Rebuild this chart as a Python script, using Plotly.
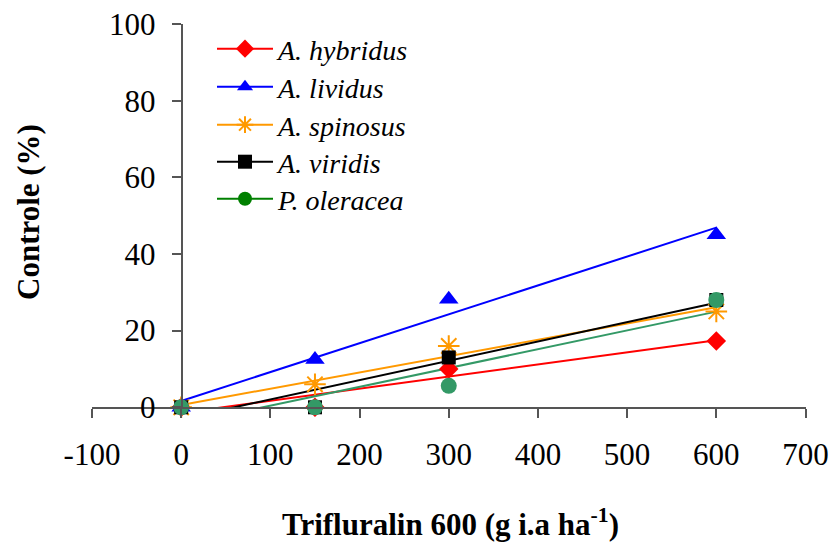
import numpy as np
import plotly.graph_objects as go

# Dose of trifluralin (g i.a. ha-1) and weed control (%) per species
doses = [0, 150, 300, 600]
species = ["A. hybridus", "A. lividus", "A. spinosus", "A. viridis", "P. oleracea"]
hybridus = [0, 0, 10, 17.3]
lividus = [0, 12.5, 28.2, 45]
spinosus = [0, 6, 16, 25]
viridis = [0, 0, 13, 28]
oleracea = [0, 0, 5.6, 28]

x_ticks = [-100, 0, 100, 200, 300, 400, 500, 600, 700]
y_ticks = [0, 20, 40, 60, 80, 100]

series = [hybridus, lividus, spinosus, viridis, oleracea]
colors = ["#FF0000", "#0000FF", "#FF9900", "#000000", "#339966"]
legend_colors = ["#FF0000", "#0000FF", "#FF9900", "#000000", "#008000"]
symbols = ["diamond", "triangle-up", "asterisk-open", "square", "circle"]
sizes = [15, 17, 18, 14, 16]

W, H = 835, 545
SERIF = "Liberation Serif, Times New Roman, serif"

# Legend rows: one small legend per species, stacked top to bottom
legend_ids = ["legend", "legend2", "legend3", "legend4", "legend5"]
legend_rows_px = [49, 87, 125, 162, 199]

fig = go.Figure()

# Linear trend lines (least squares), clipped by the y range at 0
for vals, col in zip(series, colors):
    a, b = np.polyfit(doses, vals, 1)
    xs = [0, 600]
    fig.add_trace(go.Scatter(
        x=xs, y=[a * v + b for v in xs], mode="lines",
        line=dict(color=col, width=2), showlegend=False, hoverinfo="skip"))

# Observed points
for vals, col, sym, sz in zip(series, colors, symbols, sizes):
    mk = dict(color=col, symbol=sym, size=sz)
    if sym.endswith("open"):
        mk["line"] = dict(color=col, width=2)
    else:
        mk["line"] = dict(width=0)
    fig.add_trace(go.Scatter(x=doses, y=vals, mode="markers", marker=mk,
                             showlegend=False, cliponaxis=False))

# Legend entries (line + marker)
for name, col, sym, lg in zip(species, legend_colors, symbols, legend_ids):
    mk = dict(color=col, symbol=sym, size=14)
    if sym.endswith("open"):
        mk["line"] = dict(color=col, width=2)
    else:
        mk["line"] = dict(width=0)
    fig.add_trace(go.Scatter(x=[None], y=[None], mode="lines+markers",
                             name=name, line=dict(color=col, width=2),
                             marker=mk, legend=lg))

x0_px, x1_px = 92, 805.5
y_top_px, y_bot_px = 24, 407.3

axis_common = dict(
    showgrid=False, zeroline=False, showline=True, automargin=False,
    linecolor="#555555", linewidth=1.5,
    ticks="outside", tickwidth=1.5, tickcolor="#555555",
    tickfont=dict(size=31, family=SERIF), ticklabeloverflow="allow",
)

legend_layout = {}
for lg, ypx in zip(legend_ids, legend_rows_px):
    legend_layout[lg] = dict(
        x=212 / W, y=1 - ypx / H, xanchor="left", yanchor="middle",
        bgcolor="rgba(0,0,0,0)", itemwidth=56,
        font=dict(size=28, family=SERIF, style="italic"),
    )

fig.update_layout(
    width=W, height=H,
    margin=dict(l=0, r=0, t=0, b=0, autoexpand=False),
    paper_bgcolor="white", plot_bgcolor="white",
    font=dict(family=SERIF, color="black"),
    xaxis=dict(
        domain=[x0_px / W, x1_px / W], range=[-100, 700],
        tickvals=x_ticks, ticktext=[str(v) for v in x_ticks],
        ticklen=9, ticklabelstandoff=10, **axis_common,
    ),
    yaxis=dict(
        domain=[1 - y_bot_px / H, 1 - y_top_px / H], range=[0, 100],
        anchor="free", position=181.5 / W,
        tickvals=y_ticks, ticktext=[str(v) for v in y_ticks],
        ticklen=9, ticklabelstandoff=10, **axis_common,
    ),
    annotations=[
        dict(text="Trifluralin 600 (g i.a ha<sup>-1</sup>)",
             x=450 / W, y=1 - 522 / H, xref="paper", yref="paper",
             xanchor="center", yanchor="middle",
             showarrow=False, font=dict(size=31, family=SERIF, weight="bold")),
        dict(text="Controle (%)", textangle=-90,
             x=28 / W, y=1 - 212 / H, xref="paper", yref="paper",
             xanchor="center", yanchor="middle",
             showarrow=False, font=dict(size=31, family=SERIF, weight="bold")),
    ],
    **legend_layout,
)

fig.write_html("out.html")
